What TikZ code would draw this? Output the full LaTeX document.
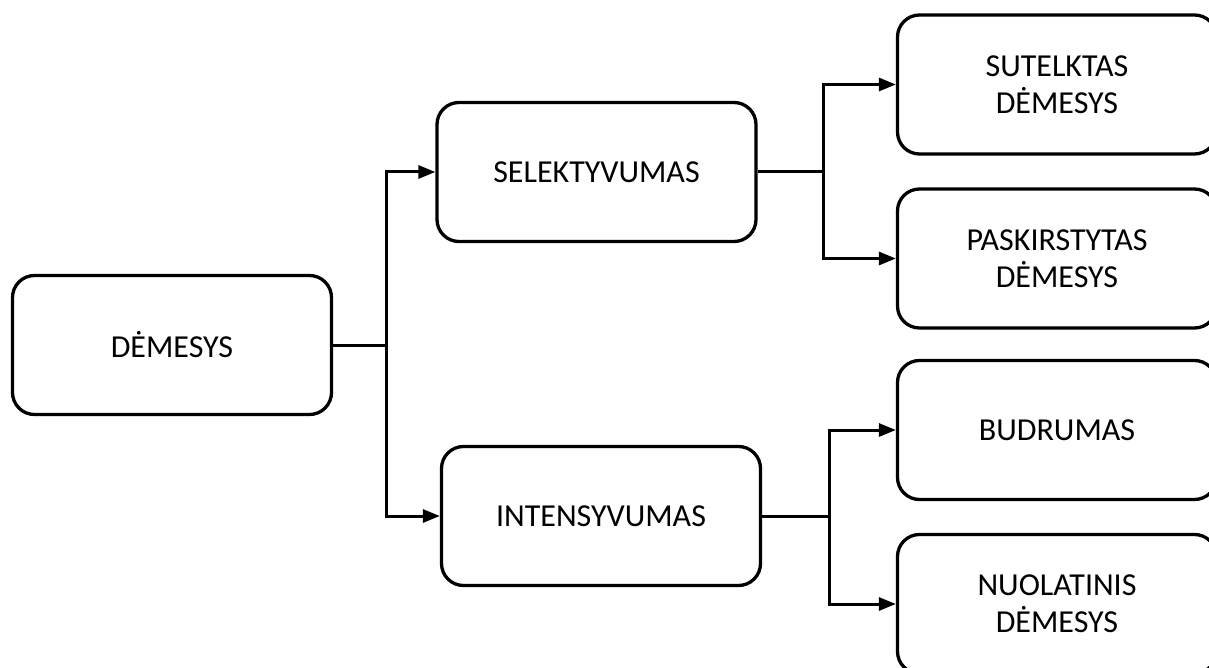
\documentclass[tikz,border=0pt]{standalone}
\usepackage{fontspec}
\setmainfont{Carlito}
\usetikzlibrary{arrows.meta,calc}
\tikzset{
  box/.style={draw, line width=3.3pt, rounded corners=22pt, minimum width=319pt, minimum height=139pt, align=center, inner sep=0pt, font=\fontsize{32}{37}\selectfont},
  arr/.style={line width=3pt, -{Triangle[length=17pt,width=13pt]}},
  ln/.style={line width=3pt}
}
\begin{document}
\begin{tikzpicture}[x=1pt,y=-1pt]
\useasboundingbox (0,0) rectangle (1209,668);
\node[box] (dem) at (172,345) {DĖMESYS};
\node[box] (sel) at (596.5,172) {SELEKTYVUMAS};
\node[box] (int) at (601,516) {INTENSYVUMAS};
\node[box] (sut) at (1057,84.5) {SUTELKTAS\\DĖMESYS};
\node[box] (pas) at (1057,258.5) {PASKIRSTYTAS\\DĖMESYS};
\node[box] (bud) at (1057,430) {BUDRUMAS};
\node[box] (nuo) at (1057,604) {NUOLATINIS\\DĖMESYS};
\coordinate (j0) at ($(dem.east)+(53,0)$);
\coordinate (j1) at ($(sel.east)+(66,0)$);
\coordinate (j2) at ($(int.east)+(67,0)$);
\draw[ln] (dem.east) -- (j0);
\draw[arr] (j0) |- (sel.west);
\draw[arr] (j0) |- (int.west);
\draw[ln] (sel.east) -- (j1);
\draw[arr] (j1) |- (sut.west);
\draw[arr] (j1) |- (pas.west);
\draw[ln] (int.east) -- (j2);
\draw[arr] (j2) |- (bud.west);
\draw[arr] (j2) |- (nuo.west);
\end{tikzpicture}
\end{document}
